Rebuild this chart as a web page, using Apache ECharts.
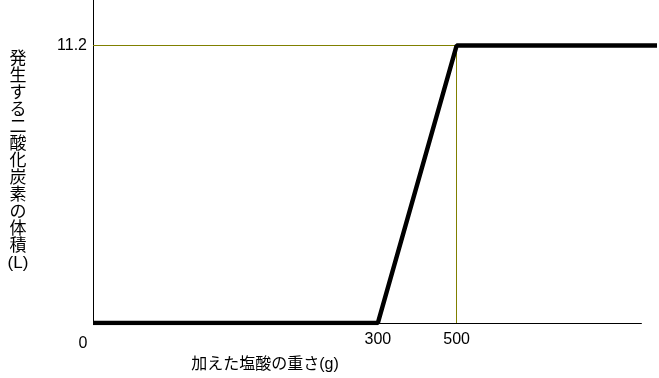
<!DOCTYPE html>
<html>
<head>
<meta charset="utf-8">
<script src="https://cdn.jsdelivr.net/npm/echarts@6/dist/echarts.min.js"></script>
<style>html,body{margin:0;padding:0;background:#fff}#c{width:659px;height:378px}</style>
</head>
<body>
<div id="c"></div>
<script>
// data
const xValues = [0, 300, 500, 711];
const yValues = [0, 0, 11.2, 11.2];
const xTickLabels = [0, 300, 500];
const yTickLabels = [11.2];
const xAxisEnd = 695;
const guideX = 500;
const guideY = 11.2;
const xTitle = '加えた塩酸の重さ(g)';
const yTitleChars = ['発','生','す','る','二','酸','化','炭','素','の','体','積','(L)'];

const chart = echarts.init(document.getElementById('c'), null, {renderer: 'canvas'});
const font = '"Liberation Sans", Arial, "Noto Sans CJK JP", sans-serif';
chart.setOption({
  animation: false,
  grid: {left: 93, right: 2, top: 0, bottom: 55},
  xAxis: {
    type: 'value', min: 0, max: 711,
    breaks: [{start: 300, end: 500, gap: 83}],
    breakArea: {show: false},
    axisLine: {show: false},
    axisTick: {show: false},
    splitLine: {show: false},
    axisLabel: {
      customValues: xTickLabels,
      color: '#000', fontSize: 16, fontFamily: font, margin: 9,
      formatter: v => v === 0 ? '{z|0}' : String(v),
      rich: {z: {padding: [4, 20, 0, 0], fontSize: 16, fontFamily: font, color: '#000'}}
    },
    name: xTitle, nameLocation: 'middle', nameGap: 34,
    nameTextStyle: {color: '#000', fontSize: 16, fontFamily: font, padding: [0, 220, 0, 0]}
  },
  yAxis: {
    type: 'value', min: 0, max: 13.036,
    axisLine: {show: true, lineStyle: {color: '#000', width: 1}},
    axisTick: {show: false},
    splitLine: {show: false},
    axisLabel: {customValues: yTickLabels, color: '#000', fontSize: 16, fontFamily: font, margin: 6},
    name: yTitleChars.join('\n'), nameLocation: 'middle', nameRotate: 0, nameGap: 75,
    nameTextStyle: {color: '#000', fontSize: 17, fontFamily: font, lineHeight: 17, align: 'center', verticalAlign: 'middle'}
  },
  series: [{
    type: 'line',
    data: xValues.map((x, i) => [x, yValues[i]]),
    showSymbol: false, symbol: 'none',
    lineStyle: {color: '#000', width: 4.5},
    z: 3,
    markLine: {
      silent: true, symbol: ['none', 'none'],
      label: {show: false},
      z: 2,
      data: [
        [{coord: [0, guideY], lineStyle: {color: '#808000', width: 1, type: 'solid'}},
         {coord: [guideX, guideY]}],
        [{coord: [guideX, 0], lineStyle: {color: '#808000', width: 1, type: 'solid'}},
         {coord: [guideX, guideY]}],
        [{coord: [0, 0], lineStyle: {color: '#000', width: 1, type: 'solid'}},
         {coord: [xAxisEnd, 0]}]
      ]
    }
  }]
});
</script>
</body>
</html>
